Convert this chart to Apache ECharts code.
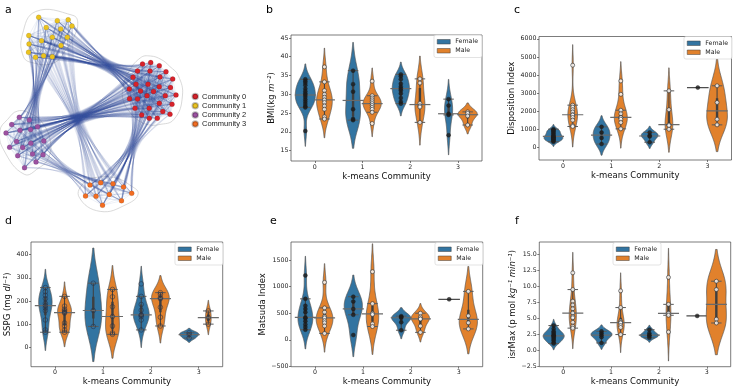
<!DOCTYPE html>
<html>
<head>
<meta charset="utf-8">
<script src="https://cdn.jsdelivr.net/npm/echarts@6/dist/echarts.min.js"></script>
<style>
  html, body { margin: 0; padding: 0; background: #fff; }
  #main { width: 756px; height: 388px; }
</style>
</head>
<body>
<div id="main"></div>
<script>
  // ---------- panel a : community network ----------
  var communityNames = ['Community 0', 'Community 1', 'Community 2', 'Community 3'];
  var communityColors = ['#d7222b', '#ebc320', '#9c51a1', '#f26d22'];
  // node positions (panel a pixel units)
  var nodesC0 = [[142.5,64],[150.7,62.5],[159.3,65.7],[137.5,71],[150,71],[166,71.7],[133,77.3],[160,77],[172.7,79],
    [136,84.3],[148,84.3],[159.3,86.7],[170.5,87.5],[129.3,89],[140.5,91],[153.5,91.5],[129.5,98.7],[137.5,99],
    [147,95.7],[165.3,95.7],[176,95],[159.3,103.3],[172,104.3],[135,108.3],[149.2,108.3],[162.8,111.5],[170,114.2],
    [141.7,115],[149.3,118.3],[157.3,118.3]];
  var nodesC1 = [[38.7,17.3],[57.3,20.7],[68.2,19.8],[72,26],[46.2,27.5],[60.7,29],[28.8,35.5],[41.5,40.8],[52.3,37.3],
    [67.3,37.3],[29,44],[61,45.5],[28.5,52.3],[35.5,57.2],[43.6,55.8],[52.3,56.7]];
  var nodesC2 = [[19.3,117.3],[29.3,120],[11.7,124.5],[37.5,126.8],[20,130.3],[30.5,129.5],[6,133],[16.5,141.5],
    [30.8,143.2],[43.8,141],[9.6,147.3],[22.7,147.5],[32.5,154],[43,154.8],[17.7,155.7],[36,162],[24.5,167.8]];
  var nodesC3 = [[90,185],[100.7,182.7],[113,183.7],[123.5,187],[85.5,196],[96,196.3],[109.3,194.5],[131.7,193.3],
    [121.5,200.8],[102.5,205.3]];
  // bundles of edges seen between communities, and the narrow point each bundle passes through
  var bundlePairs = [[1,0],[1,2],[1,3],[2,0],[2,3],[0,3]];
  var bundleWaists = [[108,66],[36,95],[78,122],[84,116],[66,170],[133,145]];

  // ---------- panels b-f : violins by k-means community and sex ----------
  var communityTicks = [0, 1, 2, 3];
  var sexNames = ['Female', 'Male'];
  var sexColors = ['#3274a1', '#e1812c'];

  var bmiFemale = [[34.0,33.5,33.0,32.4,31.5,30.8,30.2,29.8,29.3,28.6,28.0,27.4,26.8,26.5,20.2],
    [36.3,32.7,30.7,26.0,23.4,23.1],[35.3,34.8,34.0,32.8,32.0,31.5,31.0,30.2,29.0,28.0,27.5],[28.7,27.0,24.8,24.5,19.1]];
  var bmiMale = [[37.3,33.3,31.0,30.0,29.2,28.5,27.8,26.9,26.0,24.0,23.4],
    [33.5,29.6,29.0,28.5,28.0,27.5,27.0,26.5,26.0,25.2,22.2],[34.1,33.0,27.6,26.9,26.6,22.5],[25.3,24.9,24.2,21.8]];
  var bmiTicks = [15, 20, 25, 30, 35, 40, 45];
  // relative peak density of each violin (full width in category units)
  var bmiPeakFemale = [0.42, 0.31, 0.36, 0.17];
  var bmiPeakMale = [0.33, 0.38, 0.21, 0.40];

  var diFemale = [[1000,950,900,850,780,700,640,600,560,520,480,440,400,350,310],[1130,820,520,180],[820,650,600,280],[3300]];
  var diMale = [[4540,2330,2220,2080,1950,1800,1780,1650,1500,1200,1150],[3670,2930,2050,1850,1650,1640,1550,1370,1020],
    [3120,2080,1250,1200,1000],[3400,2480,1550,1240]];
  var diTicks = [0, 1000, 2000, 3000, 4000, 5000, 6000];
  var diPeakFemale = [0.39, 0.35, 0.35, 0.45];
  var diPeakMale = [0.20, 0.27, 0.16, 0.43];

  var sspgFemale = [[258,240,225,210,190,180,170,158,118,75,65],[277,159,90],[274,220,185,160,140,138,132,118,75],[63,55,40]];
  var sspgMale = [[220,178,165,158,152,148,105,92,75,65],[250,218,175,133,92,62,56],[236,228,215,210,173,130,92],[157,128,100]];
  var sspgTicks = [0, 100, 200, 300, 400];
  var sspgPeakFemale = [0.28, 0.35, 0.33, 0.40];
  var sspgPeakMale = [0.29, 0.29, 0.37, 0.12];

  var matsudaFemale = [[1210,770,640,580,520,420,405,350,290,240,190],[810,720,580,470,90],[445,430,415,330,180],[760]];
  var matsudaMale = [[1080,600,520,440,412,360,320,260,120],[1280,680,500,475,300,250],[500,430,395,390,260,140],[910,450,320,205]];
  var matsudaTicks = [-500, 0, 500, 1000, 1500];
  var matsudaPeakFemale = [0.31, 0.38, 0.40, 0.45];
  var matsudaPeakMale = [0.35, 0.26, 0.38, 0.38];

  var isrFemale = [[3.9,3.4,3.0,2.8,2.6,2.4,2.3,2.2,2.0,1.8,1.6,1.3,1.1],[3.0,2.7,2.4,2.1,1.2],[3.25,2.7,2.4,2.3,2.0],[5.4]];
  var isrMale = [[12.1,9.5,7.7,7.1,6.5,5.85,5.3,5.1,4.4,3.8,3.5],[9.3,6.7,4.6,4.4,4.3,3.9,3.6,2.5],[11.4,7.2,5.8,5.5,2.9],[10.8,9.5,4.9,4.3]];
  var isrTicks = [-2.5, 0, 2.5, 5, 7.5, 10, 12.5, 15];
  var isrPeakFemale = [0.44, 0.44, 0.38, 0.45];
  var isrPeakMale = [0.15, 0.15, 0.10, 0.42];

  function minusFmt(v) { return (v < 0 ? '\u2212' : '') + Math.abs(v); }
  function minusFmt1(v) { return (v < 0 ? '\u2212' : '') + Math.abs(v).toFixed(1); }

  var panels = [
    {letter: 'b', female: bmiFemale, male: bmiMale, peaks: [bmiPeakFemale, bmiPeakMale], ticks: bmiTicks,
      min: 12.2, max: 45.8, fmt: minusFmt, name: 'BMI(kg {i|m\u207B\u00B2})', nameGap: 14, hollow: false,
      grid: {left: 291, top: 35, width: 191, height: 126}, legend: {right: 274, top: 35}, title: {left: 261, top: 0}},
    {letter: 'c', female: diFemale, male: diMale, peaks: [diPeakFemale, diPeakMale], ticks: diTicks,
      min: -703, max: 6127, fmt: minusFmt, name: 'Disposition Index', nameGap: 21, hollow: false,
      grid: {left: 539, top: 36.5, width: 192.5, height: 123.5}, legend: {right: 24, top: 36.5}, title: {left: 509, top: 0}},
    {letter: 'd', female: sspgFemale, male: sspgMale, peaks: [sspgPeakFemale, sspgPeakMale], ticks: sspgTicks,
      min: -84, max: 455, fmt: minusFmt, name: 'SSPG (mg {i|dl\u207B\u00B9})', nameGap: 17, hollow: true,
      grid: {left: 31, top: 242, width: 191.7, height: 124.7}, legend: {right: 533, top: 242.5}, title: {left: 0, top: 211}},
    {letter: 'e', female: matsudaFemale, male: matsudaMale, peaks: [matsudaPeakFemale, matsudaPeakMale], ticks: matsudaTicks,
      min: -505, max: 1838, fmt: minusFmt, name: 'Matsuda Index', nameGap: 22, hollow: false,
      grid: {left: 291, top: 242, width: 191.7, height: 124.7}, legend: {right: 273, top: 242.5}, title: {left: 265, top: 211}},
    {letter: 'f', female: isrFemale, male: isrMale, peaks: [isrPeakFemale, isrPeakMale], ticks: isrTicks,
      min: -2.5, max: 16.9, fmt: minusFmt1, name: 'isrMax (p mol {i|kg\u207B\u00B9} {i|min\u207B\u00B9})', nameGap: 21, hollow: false,
      grid: {left: 539.3, top: 242, width: 191.4, height: 124.7}, legend: {left: 613, top: 242.5}, title: {left: 510, top: 211}}
  ];

  // gaussian kde, scott bandwidth, cut = 2 (as seaborn does)
  function kdeShape(vals) {
    var n = vals.length;
    var mean = vals.reduce(function (a, b) { return a + b; }, 0) / n;
    var sd = Math.sqrt(vals.reduce(function (a, b) { return a + (b - mean) * (b - mean); }, 0) / (n - 1));
    var bw = sd * Math.pow(n, -0.2);
    var lo = Math.min.apply(null, vals) - 2 * bw, hi = Math.max.apply(null, vals) + 2 * bw;
    var ys = [], ds = [], peak = 0;
    for (var i = 0; i < 100; i++) {
      var y = lo + (hi - lo) * i / 99, d = 0;
      vals.forEach(function (v) { d += Math.exp(-0.5 * Math.pow((y - v) / bw, 2)); });
      ys.push(y);
      ds.push(d);
      peak = Math.max(peak, d);
    }
    return {ys: ys, ds: ds.map(function (d) { return d / peak; })};
  }
  function quantile(s, p) {
    var h = (s.length - 1) * p, i = Math.floor(h);
    return s[i] + (h - i) * (s[Math.min(i + 1, s.length - 1)] - s[i]);
  }
  function boxStats(vals) {
    var s = vals.slice().sort(function (a, b) { return a - b; });
    var q1 = quantile(s, 0.25), q3 = quantile(s, 0.75), med = quantile(s, 0.5), iqr = q3 - q1;
    var inside = s.filter(function (v) { return v >= q1 - 1.5 * iqr && v <= q3 + 1.5 * iqr; });
    return {q1: q1, q3: q3, med: med, lo: inside[0], hi: inside[inside.length - 1]};
  }

  panels.forEach(function (p) {
    p.shapes = [p.female, p.male].map(function (groups) {
      return groups.map(function (vals) { return vals.length > 1 ? kdeShape(vals) : null; });
    });
  });

  function renderViolin(vals, shape, half, api, color) {
    var xc = api.value(0);
    function seg(x1, y1, x2, y2, stroke, w) {
      var a = api.coord([x1, y1]), b = api.coord([x2, y2]);
      return {type: 'line', shape: {x1: a[0], y1: a[1], x2: b[0], y2: b[1]}, style: {stroke: stroke, lineWidth: w}};
    }
    if (vals.length === 1) {
      return {type: 'group', children: [seg(xc - half, vals[0], xc + half, vals[0], '#4d4d4d', 1.2)]};
    }
    var pts = [], i;
    for (i = 0; i < shape.ys.length; i++) pts.push(api.coord([xc - shape.ds[i] * half, shape.ys[i]]));
    for (i = shape.ys.length - 1; i >= 0; i--) pts.push(api.coord([xc + shape.ds[i] * half, shape.ys[i]]));
    var st = boxStats(vals);
    return {type: 'group', children: [
      {type: 'polygon', shape: {points: pts}, style: {fill: color, stroke: '#555', lineWidth: 0.7}},
      seg(xc, st.lo, xc, st.hi, '#3f3f3f', 1),
      seg(xc, st.q1, xc, st.q3, '#3f3f3f', 2.4),
      seg(xc - 0.11, st.lo, xc + 0.11, st.lo, '#5a5a5a', 1),
      seg(xc - 0.11, st.hi, xc + 0.11, st.hi, '#5a5a5a', 1),
      seg(xc - 0.22, st.med, xc + 0.22, st.med, '#6a6a6a', 1.2)
    ]};
  }

  // ---------- network helpers ----------
  var communityNodes = [nodesC0, nodesC1, nodesC2, nodesC3];
  var centroids = communityNodes.map(function (ns) {
    var cx = 0, cy = 0;
    ns.forEach(function (n) { cx += n[0]; cy += n[1]; });
    return [cx / ns.length, cy / ns.length];
  });

  var innerLinks = [];
  communityNodes.forEach(function (ns) {
    for (var i = 0; i < ns.length; i++) for (var j = i + 1; j < ns.length; j++) innerLinks.push({coords: [ns[i], ns[j]]});
  });

  var bundleLinks = [];
  bundlePairs.forEach(function (pair, b) {
    var A = communityNodes[pair[0]], B = communityNodes[pair[1]], cA = centroids[pair[0]], cB = centroids[pair[1]];
    var W = bundleWaists[b];
    A.forEach(function (pp) {
      B.forEach(function (q) {
        var wx = W[0] + 0.12 * ((pp[0] - cA[0]) + (q[0] - cB[0]));
        var wy = W[1] + 0.12 * ((pp[1] - cA[1]) + (q[1] - cB[1]));
        var kx = 2 * wx - (pp[0] + q[0]) / 2, ky = 2 * wy - (pp[1] + q[1]) / 2;
        var coords = [];
        for (var t = 0; t <= 1.0001; t += 1 / 12) {
          var u = 1 - t;
          coords.push([u * u * pp[0] + 2 * t * u * kx + t * t * q[0], u * u * pp[1] + 2 * t * u * ky + t * t * q[1]]);
        }
        bundleLinks.push({coords: coords});
      });
    });
  });

  function convexHull(points) {
    var pts = points.slice().sort(function (a, b) { return a[0] - b[0] || a[1] - b[1]; });
    function cross(o, a, b) { return (a[0] - o[0]) * (b[1] - o[1]) - (a[1] - o[1]) * (b[0] - o[0]); }
    var lower = [], upper = [];
    pts.forEach(function (p) {
      while (lower.length >= 2 && cross(lower[lower.length - 2], lower[lower.length - 1], p) <= 0) lower.pop();
      lower.push(p);
    });
    pts.slice().reverse().forEach(function (p) {
      while (upper.length >= 2 && cross(upper[upper.length - 2], upper[upper.length - 1], p) <= 0) upper.pop();
      upper.push(p);
    });
    lower.pop(); upper.pop();
    return lower.concat(upper);
  }

  // ---------- option ----------
  var grids = [{left: 0, top: 0, width: 190, height: 220, show: false}];
  var xAxes = [{gridIndex: 0, type: 'value', min: 0, max: 190, show: false}];
  var yAxes = [{gridIndex: 0, type: 'value', min: 0, max: 220, inverse: true, show: false}];
  var titles = [{text: 'a', left: 0, top: 0, textStyle: {fontSize: 11, fontWeight: 'normal', color: '#000', fontFamily: 'DejaVu Sans'}}];
  var legends = [{
    data: communityNames, orient: 'vertical', left: 191.5, top: 92.5, icon: 'circle',
    itemWidth: 5.5, itemHeight: 5.5, itemGap: 1.2, padding: 0, selectedMode: false,
    textStyle: {fontSize: 7.5, lineHeight: 8, color: '#222', fontFamily: 'Liberation Sans', padding: [0, 0, 0, -1]}
  }];
  var series = [];

  series.push({
    type: 'custom', name: 'hulls', xAxisIndex: 0, yAxisIndex: 0, silent: true, z: 1,
    data: communityTicks.map(function (c) { return [centroids[c][0], centroids[c][1]]; }),
    renderItem: function (params, api) {
      var c = centroids[params.dataIndex];
      var hull = convexHull(communityNodes[params.dataIndex]).map(function (p) {
        var dx = p[0] - c[0], dy = p[1] - c[1], len = Math.sqrt(dx * dx + dy * dy) || 1;
        return api.coord([p[0] + dx / len * 6.5, p[1] + dy / len * 6.5]);
      });
      return {type: 'polygon', shape: {points: hull, smooth: 0.45}, style: {fill: 'none', stroke: '#c9c9c9', lineWidth: 0.7}};
    }
  });
  series.push({
    type: 'lines', name: 'bundles', coordinateSystem: 'cartesian2d', xAxisIndex: 0, yAxisIndex: 0,
    polyline: true, silent: true, z: 2, data: bundleLinks,
    lineStyle: {color: '#2b4f96', width: 0.35, opacity: 0.12}
  });
  series.push({
    type: 'lines', name: 'inner', coordinateSystem: 'cartesian2d', xAxisIndex: 0, yAxisIndex: 0,
    silent: true, z: 3, data: innerLinks,
    lineStyle: {color: '#2b4f96', width: 0.4, opacity: 0.2}
  });
  communityNodes.forEach(function (ns, c) {
    series.push({
      type: 'scatter', name: communityNames[c], xAxisIndex: 0, yAxisIndex: 0, z: 4, silent: true,
      symbolSize: 5, data: ns,
      itemStyle: {color: communityColors[c], borderColor: 'rgba(0,0,0,0.25)', borderWidth: 0.4, opacity: 1}
    });
  });

  panels.forEach(function (p, i) {
    var gi = i + 1;
    grids.push(Object.assign({show: true, borderColor: '#444', borderWidth: 0.7, backgroundColor: 'transparent'}, p.grid));
    xAxes.push({
      gridIndex: gi, type: 'value', min: -0.5, max: 3.5,
      axisLine: {show: false, onZero: false}, splitLine: {show: false},
      axisTick: {length: 2, customValues: communityTicks, lineStyle: {color: '#444', width: 0.7}},
      axisLabel: {customValues: communityTicks, fontSize: 6.3, color: '#222', margin: 3, fontFamily: 'DejaVu Sans'},
      name: 'k-means Community', nameLocation: 'middle', nameGap: 11,
      nameTextStyle: {fontSize: 8.5, color: '#111', fontFamily: 'DejaVu Sans'}
    });
    yAxes.push({
      gridIndex: gi, type: 'value', min: p.min, max: p.max,
      axisLine: {show: false, onZero: false}, splitLine: {show: false},
      axisTick: {length: 2, customValues: p.ticks, lineStyle: {color: '#444', width: 0.7}},
      axisLabel: {customValues: p.ticks, formatter: p.fmt, fontSize: 6.3, color: '#222', margin: 2.5, fontFamily: 'DejaVu Sans'},
      name: p.name, nameLocation: 'middle', nameRotate: 90, nameGap: p.nameGap,
      nameTextStyle: {fontSize: 8.5, color: '#111', fontFamily: 'DejaVu Sans',
        rich: {i: {fontSize: 8.5, fontStyle: 'italic', color: '#111', fontFamily: 'DejaVu Sans'}}}
    });
    titles.push({text: p.letter, left: p.title.left, top: p.title.top,
      textStyle: {fontSize: 11, fontWeight: 'normal', color: '#000', fontFamily: 'DejaVu Sans'}});
    legends.push(Object.assign({
      data: sexNames, orient: 'vertical', icon: 'rect', itemWidth: 13, itemHeight: 4.5, itemGap: 1.5,
      padding: [3, 4, 3, 3], selectedMode: false, backgroundColor: 'rgba(255,255,255,0.85)',
      borderColor: '#d0d0d0', borderWidth: 0.6, borderRadius: 2,
      itemStyle: {borderColor: '#3f3f3f', borderWidth: 0.5},
      textStyle: {fontSize: 6.3, lineHeight: 7.5, color: '#222', fontFamily: 'DejaVu Sans'}
    }, p.legend));

    [p.female, p.male].forEach(function (groups, j) {
      var off = j === 0 ? -0.2 : 0.2;
      series.push({
        type: 'custom', name: sexNames[j], xAxisIndex: gi, yAxisIndex: gi, silent: true, z: 2, clip: true,
        itemStyle: {color: sexColors[j]},
        data: communityTicks.map(function (c) { return [c + off, boxStats(groups[c]).med]; }),
        renderItem: function (params, api) {
          var k = params.dataIndex;
          return renderViolin(groups[k], p.shapes[j][k], p.peaks[j][k] / 2, api, sexColors[j]);
        }
      });
      var pts = [];
      groups.forEach(function (vals, c) { vals.forEach(function (v) { pts.push([c + off, v]); }); });
      series.push({
        type: 'scatter', name: sexNames[j] + ' points', xAxisIndex: gi, yAxisIndex: gi, silent: true, z: 4,
        symbolSize: p.hollow ? 4.6 : 4, data: pts,
        itemStyle: p.hollow
          ? {color: 'rgba(0,0,0,0)', borderColor: '#263048', borderWidth: 0.7}
          : (j === 0 ? {color: '#1c1c1c', borderColor: '#1c1c1c', borderWidth: 0.5}
                     : {color: '#ffffff', borderColor: '#333', borderWidth: 0.8})
      });
    });
  });

  var chart = echarts.init(document.getElementById('main'), null, {renderer: 'canvas'});
  chart.setOption({
    animation: false,
    backgroundColor: '#fff',
    title: titles,
    legend: legends,
    grid: grids,
    xAxis: xAxes,
    yAxis: yAxes,
    series: series
  });
</script>
</body>
</html>
